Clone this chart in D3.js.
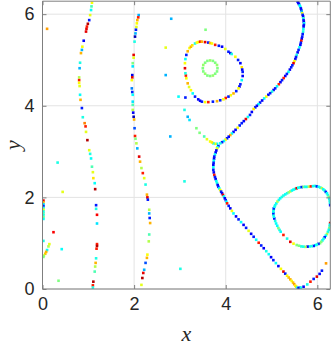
<!DOCTYPE html>
<html><head><meta charset="utf-8">
<script src="https://cdn.jsdelivr.net/npm/d3@7"></script>
<style>html,body{margin:0;padding:0;background:#fff;}svg{display:block;}</style>
</head><body>
<script>
// ---- data: [x, y, colour value 0..1 (jet)] ----
const xTicks = [0, 2, 4, 6];
const yTicks = [0, 2, 4, 6];
const xLabel = "x";
const yLabel = "y";

const curveA = [
[1.08,6.25,.62],[1.07,6.17,.45],[1.06,6.09,.38],[1.04,5.98,.6],[1.02,5.87,.15],[0.99,5.79,.95],[0.97,5.73,.85],[0.96,5.68,.9],[0.95,5.62,.9],[0.90,5.42,.12],[0.87,5.29,.62],[0.86,5.22,.3],[0.84,5.15,.7],[0.82,4.94,.4],[0.81,4.82,.3],[0.80,4.62,.55],[0.80,4.56,.85],[0.80,4.50,.62],[0.81,4.43,.6],[0.82,4.24,.38],[0.83,4.13,.7],[0.86,3.95,.15],[0.88,3.75,.4],[0.92,3.62,.75],[0.94,3.55,.85],[0.95,3.43,.6],[0.98,3.25,.95],[1.02,3.03,.6],[1.04,2.95,.4],[1.06,2.85,.38],[1.08,2.67,.45],[1.10,2.55,.6],[1.11,2.42,.65],[1.14,2.31,.38],[1.15,2.18,.95],[1.17,1.83,.15],[1.17,1.75,.4],[1.19,1.62,.88],[1.19,1.43,.35],[1.19,0.98,.85],[1.19,0.94,.95],[1.18,0.88,.85],[1.17,0.67,.4],[1.16,0.57,.7],[1.15,0.49,.55],[1.14,0.38,.45],[1.11,0.16,.95],[1.10,0.08,.85],[1.10,0.03,.4]
];
const curveB = [
[2.10,5.98,.3],[2.09,5.93,.85],[2.07,5.87,.7],[2.06,5.80,.62],[2.05,5.72,.6],[2.04,5.66,.15],[2.03,5.58,.3],[2.02,5.51,.05],[2.01,5.40,.4],[1.99,5.11,.9],[1.99,5.05,.6],[1.97,4.93,.5],[1.97,4.86,.35],[1.96,4.67,.1],[1.96,4.62,.9],[1.95,4.56,.62],[1.95,4.38,.25],[1.96,4.30,.15],[1.97,4.24,.38],[1.97,4.09,.35],[1.97,4.02,.45],[1.97,3.91,.55],[1.98,3.85,.12],[1.99,3.76,.05],[2.00,3.70,.7],[2.01,3.51,.2],[2.02,3.34,.85],[2.03,3.28,.5],[2.05,3.18,.55],[2.07,3.07,.3],[2.11,2.89,.9],[2.13,2.78,.7],[2.16,2.64,.55],[2.19,2.53,.85],[2.22,2.42,.6],[2.25,2.28,.4],[2.28,2.06,.7],[2.29,2.00,.9],[2.30,1.95,.15],[2.33,1.73,.55],[2.33,1.65,.3],[2.34,1.55,.15],[2.35,1.44,.7],[2.33,1.19,.45],[2.32,1.04,.55],[2.29,0.75,.62],[2.28,0.68,.7],[2.25,0.57,.2],[2.22,0.42,.3],[2.20,0.35,.9],[2.18,0.24,.95],[2.16,0.09,.6]
];
const leftCluster = [
[0.02,1.93,.9],[0.02,1.89,.7],[0.02,1.85,.35],[0.02,1.81,.15],[0.02,1.77,.4],[0.02,1.73,.6],[0.02,1.69,.38],[0.02,1.65,.45],[0.02,1.61,.4],[0.02,1.57,.5],[0.02,1.53,.38],[0.02,1.05,.4],[0.15,0.98,.6],[0.13,0.93,.55],[0.10,0.85,.38],[0.08,0.81,.7],[0.06,0.77,.68],[0.03,0.73,.55],[0.02,0.70,.5]
];
const scattered = [
[0.10,5.68,.72],[0.33,2.76,.4],[0.44,2.12,.6],[0.24,1.24,.88],[0.42,0.87,.38],[0.35,0.18,.5],[2.81,5.90,.3],[3.56,5.66,.5],[2.69,5.27,.6],[2.69,4.67,.3],[2.97,4.20,.38],[3.12,4.18,.15],[2.79,3.33,.3],[3.10,3.91,.4],[3.17,3.76,.3],[3.21,3.69,.35],[3.36,3.51,.5],[3.43,3.41,.5],[3.10,2.35,.4],[3.01,0.44,.4],[6.19,0.56,.72]
];
const leftOval = [
[3.21,5.26,.62],[3.24,5.29,.7],[3.27,5.32,.65],[3.33,5.36,.4],[3.37,5.38,.62],[3.40,5.39,.62],[3.44,5.40,.85],[3.48,5.40,.7],[3.55,5.39,.9],[3.62,5.38,.15],[3.66,5.37,.7],[3.70,5.36,.62],[3.77,5.33,.85],[3.85,5.31,.15],[3.92,5.29,.12],[3.99,5.24,.6],[4.06,5.18,.15],[4.10,5.15,.12],[4.13,5.13,.4],[4.21,5.07,.62],[4.27,5.00,.15],[4.32,4.93,.12],[4.35,4.84,.65],[4.36,4.79,.12],[4.37,4.74,.15],[4.37,4.65,.12],[4.35,4.56,.38],[4.32,4.47,.15],[4.30,4.42,.12],[4.28,4.38,.62],[4.23,4.32,.15],[4.17,4.27,.7],[4.11,4.23,.62],[4.06,4.20,.15],[4.00,4.17,.85],[3.95,4.14,.62],[3.88,4.12,.15],[3.81,4.10,.7],[3.72,4.09,.15],[3.62,4.08,.85],[3.55,4.08,.62],[3.48,4.09,.15],[3.44,4.11,.12],[3.40,4.14,.12],[3.33,4.20,.15],[3.28,4.27,.38],[3.24,4.34,.62],[3.20,4.41,.6],[3.17,4.49,.7],[3.14,4.60,.62],[3.13,4.66,.85],[3.12,4.71,.4],[3.11,4.82,.9],[3.11,4.93,.62],[3.12,5.02,.38],[3.14,5.11,.15],[3.17,5.19,.7]
];
const ring = [
[3.82,4.82,.5],[3.81,4.89,.52],[3.77,4.94,.5],[3.72,4.98,.5],[3.66,4.99,.52],[3.60,4.98,.5],[3.55,4.94,.5],[3.51,4.89,.52],[3.50,4.82,.5],[3.51,4.75,.5],[3.55,4.70,.52],[3.60,4.66,.5],[3.66,4.65,.5],[3.72,4.66,.52],[3.77,4.70,.5],[3.81,4.75,.5]
];
const separatrix = [
[5.57,6.27,.15],[5.585,6.245,.12],[5.60,6.22,.12],[5.615,6.19,.38],[5.63,6.16,.38],[5.64,6.125,.12],[5.65,6.09,.15],[5.66,6.055,.3],[5.67,6.02,.6],[5.68,5.985,.15],[5.69,5.95,.12],[5.695,5.91,.4],[5.70,5.87,.15],[5.705,5.835,.12],[5.71,5.80,.38],[5.705,5.765,.15],[5.70,5.73,.12],[5.695,5.675,.38],[5.69,5.62,.4],[5.68,5.565,.15],[5.67,5.51,.15],[5.66,5.465,.12],[5.65,5.42,.85],[5.64,5.375,.15],[5.63,5.33,.12],[5.61,5.275,.38],[5.59,5.22,.15],[5.57,5.165,.12],[5.55,5.11,.4],[5.535,5.065,.15],[5.52,5.02,.12],[5.50,4.975,.62],[5.48,4.93,.9],[5.455,4.885,.15],[5.43,4.84,.15],[5.40,4.79,.12],[5.37,4.74,.38],[5.335,4.695,.15],[5.30,4.65,.12],[5.265,4.605,.85],[5.23,4.56,.15],[5.195,4.515,.12],[5.16,4.47,.85],[5.12,4.425,.38],[5.08,4.38,.15],[5.045,4.345,.12],[5.01,4.31,.4],[4.97,4.275,.15],[4.93,4.24,.12],[4.885,4.20,.62],[4.84,4.16,.38],[4.795,4.115,.12],[4.75,4.07,.15],[4.715,4.035,.38],[4.68,4.00,.12],[4.645,3.965,.15],[4.61,3.93,.65],[4.57,3.865,.12],[4.53,3.80,.15],[4.485,3.755,.38],[4.44,3.71,.9],[4.395,3.665,.12],[4.35,3.62,.15],[4.305,3.57,.15],[4.26,3.52,.62],[4.215,3.475,.12],[4.17,3.43,.12],[4.135,3.395,.38],[4.10,3.36,.7],[4.065,3.325,.12],[4.03,3.29,.15],[3.995,3.26,.62],[3.96,3.23,.38],[3.92,3.205,.15],[3.88,3.18,.4],
[3.81,3.17,.38],[3.77,3.17,.62],[3.73,3.18,.4],[3.70,3.20,.65],[3.66,3.22,.62],[3.59,3.27,.6],[3.53,3.33,.45],
[3.84,3.12,.15],[3.82,3.095,.38],[3.81,3.07,.6],[3.795,3.025,.12],[3.78,2.98,.12],[3.765,2.935,.38],[3.75,2.89,.15],[3.745,2.845,.12],[3.74,2.80,.38],[3.735,2.755,.15],[3.73,2.71,.12],[3.73,2.655,.38],[3.73,2.60,.15],[3.74,2.545,.12],[3.75,2.49,.85],[3.765,2.445,.15],[3.78,2.40,.12],[3.795,2.355,.38],[3.81,2.31,.4],[3.825,2.27,.12],[3.84,2.23,.15],[3.86,2.195,.38],[3.88,2.16,.62],[3.90,2.125,.15],[3.92,2.09,.12],[3.94,2.055,.9],[3.96,2.02,.38],[3.98,1.98,.12],[4.00,1.94,.15],[4.015,1.905,.38],[4.03,1.87,.85],[4.065,1.815,.15],[4.10,1.76,.12],[4.135,1.705,.62],[4.17,1.65,.38],[4.225,1.585,.12],[4.28,1.52,.15],[4.335,1.46,.38],[4.39,1.40,.12],[4.445,1.335,.15],[4.50,1.27,.6],[4.555,1.205,.12],[4.61,1.14,.15],[4.665,1.075,.38],[4.72,1.01,.85],[4.775,0.95,.15],[4.83,0.89,.12],[4.885,0.825,.4],[4.94,0.76,.38],[4.99,0.695,.12],[5.04,0.63,.15],[5.095,0.565,.38],[5.15,0.50,.12],[5.205,0.44,.62],[5.26,0.38,.9],[5.30,0.335,.15],[5.34,0.29,.62],[5.375,0.25,.68],[5.41,0.21,.7],[5.44,0.175,.62],[5.47,0.14,.68],[5.495,0.105,.72],[5.52,0.07,.62],[5.54,0.05,.65],[5.56,0.03,.4],[5.59,0.02,.15],[5.615,0.025,.12],[5.64,0.03,.38],[5.70,0.05,.12],[5.78,0.10,.4],[5.85,0.16,.85],[5.92,0.22,.15],[5.99,0.27,.9],[6.05,0.33,.12],[6.10,0.40,.15]
];
const rightOval = [
[5.26,2.04,.4],[5.30,2.065,.38],[5.34,2.09,.4],[5.375,2.11,.5],[5.41,2.13,.55],[5.445,2.15,.38],[5.48,2.17,.38],[5.515,2.185,.4],[5.55,2.20,.9],[5.585,2.21,.38],[5.62,2.22,.4],[5.66,2.225,.15],[5.70,2.23,.5],[5.735,2.23,.4],[5.77,2.23,.38],[5.815,2.235,.55],[5.86,2.24,.85],[5.905,2.245,.38],[5.95,2.25,.4],[5.99,2.24,.15],[6.03,2.23,.38],[6.065,2.215,.4],[6.10,2.20,.55],[6.13,2.175,.38],[6.16,2.15,.4],[6.185,2.12,.15],[6.21,2.09,.38],[6.23,2.05,.4],[6.25,2.01,.5],[6.26,1.97,.38],[6.27,1.93,.4],[6.275,1.88,.38],[6.28,1.83,.15],
[6.28,1.44,.9],[6.275,1.405,.38],[6.27,1.37,.4],[6.26,1.33,.5],[6.25,1.29,.38],[6.23,1.245,.4],[6.21,1.20,.55],[6.185,1.165,.38],[6.16,1.13,.15],[6.135,1.095,.4],[6.11,1.06,.38],[6.085,1.03,.5],[6.06,1.00,.5],[6.025,0.985,.15],[5.99,0.97,.4],[5.955,0.955,.38],[5.92,0.94,.15],[5.875,0.935,.4],[5.83,0.93,.38],[5.785,0.925,.12],[5.74,0.92,.55],[5.695,0.925,.4],[5.65,0.93,.4],[5.60,0.945,.5],[5.55,0.96,.5],[5.48,0.99,.62],[5.41,1.03,.9],[5.34,1.10,.4],[5.26,1.18,.85],[5.20,1.25,.38],[5.175,1.29,.4],[5.15,1.33,.5],[5.125,1.38,.38],[5.10,1.43,.38],[5.08,1.485,.4],[5.06,1.54,.15],[5.05,1.58,.38],[5.04,1.62,.4],[5.04,1.655,.15],[5.04,1.69,.38],[5.045,1.725,.4],[5.05,1.76,.15],[5.065,1.795,.38],[5.08,1.83,.4],[5.105,1.87,.38],[5.13,1.91,.55],[5.16,1.945,.4],[5.19,1.98,.38],[5.225,2.01,.4]
];

// ---- drawing ----
const W = 332, H = 346;
const pLeft = 42.5, pRight = 330.3, pTop = 1.2, pBottom = 289;
const TWO_PI = 2 * Math.PI;
const x = d3.scaleLinear().domain([0, TWO_PI]).range([pLeft, pRight]);
const y = d3.scaleLinear().domain([0, TWO_PI]).range([pBottom, pTop]);

function jet(c) {
  const cl = v => Math.max(0, Math.min(1, v));
  const r = cl(1.5 - Math.abs(4 * c - 3));
  const g = cl(1.5 - Math.abs(4 * c - 2));
  const b = cl(1.5 - Math.abs(4 * c - 1));
  return d3.rgb(r * 255, g * 255, b * 255).toString();
}

const svg = d3.select("body").append("svg").attr("width", W).attr("height", H);

// grid
const grid = svg.append("g");
grid.selectAll("line.gx").data(xTicks).join("line")
  .attr("x1", d => x(d)).attr("x2", d => x(d)).attr("y1", pTop).attr("y2", pBottom)
  .attr("stroke", "#e3e3e3").attr("stroke-width", 1);
grid.selectAll("line.gy").data(yTicks).join("line")
  .attr("y1", d => y(d)).attr("y2", d => y(d)).attr("x1", pLeft).attr("x2", pRight)
  .attr("stroke", "#e3e3e3").attr("stroke-width", 1);

// points
svg.append("clipPath").attr("id", "pc").append("rect")
  .attr("x", pLeft).attr("y", pTop).attr("width", pRight - pLeft).attr("height", pBottom - pTop);
const pts = svg.append("g").attr("clip-path", "url(#pc)");
const all = [curveA, curveB, leftCluster, scattered, leftOval, ring, separatrix, rightOval];
const sz = 2.6;
all.forEach(arr => {
  pts.append("g").selectAll("rect").data(arr).join("rect")
    .attr("x", d => x(d[0]) - sz / 2).attr("y", d => y(d[1]) - sz / 2)
    .attr("width", sz).attr("height", sz)
    .attr("fill", d => jet(d[2]));
});

// axes (box with inward ticks)
const axCol = "#7f7f7f";
const tl = 4;
const axB = svg.append("g").attr("transform", `translate(0,${pBottom})`)
  .call(d3.axisBottom(x).tickValues(xTicks).tickFormat(d3.format("d")).tickSize(-tl).tickPadding(8));
const axT = svg.append("g").attr("transform", `translate(0,${pTop})`)
  .call(d3.axisTop(x).tickValues(xTicks).tickFormat("").tickSize(-tl));
const axL = svg.append("g").attr("transform", `translate(${pLeft},0)`)
  .call(d3.axisLeft(y).tickValues(yTicks).tickFormat(d3.format("d")).tickSize(-tl).tickPadding(8));
const axR = svg.append("g").attr("transform", `translate(${pRight},0)`)
  .call(d3.axisRight(y).tickValues(yTicks).tickFormat("").tickSize(-tl));
[axB, axT, axL, axR].forEach(a => {
  a.selectAll("path.domain").attr("stroke", axCol).attr("stroke-width", 1);
  a.selectAll(".tick line").attr("stroke", axCol);
  a.selectAll("text").attr("fill", "#262626")
    .style("font-family", "'Liberation Sans', Arial, sans-serif").style("font-size", "18px");
});
axB.selectAll("path.domain").attr("d", `M${pLeft},0H${pRight}`);
axT.selectAll("path.domain").attr("d", `M${pLeft},0H${pRight}`);
axL.selectAll("path.domain").attr("d", `M0,${pTop}V${pBottom}`);
axR.selectAll("path.domain").attr("d", `M0,${pTop}V${pBottom}`);

// axis labels
svg.append("text").text(xLabel).attr("x", (pLeft + pRight) / 2).attr("y", 341)
  .attr("text-anchor", "middle").attr("fill", "#262626")
  .style("font-family", "'Liberation Serif', 'DejaVu Serif', serif").style("font-style", "italic").style("font-size", "22px");
svg.append("text").text(yLabel)
  .attr("transform", `translate(20,${(pTop + pBottom) / 2}) rotate(-90)`)
  .attr("text-anchor", "middle").attr("fill", "#262626")
  .style("font-family", "'Liberation Serif', 'DejaVu Serif', serif").style("font-style", "italic").style("font-size", "22px");
</script>
</body></html>
